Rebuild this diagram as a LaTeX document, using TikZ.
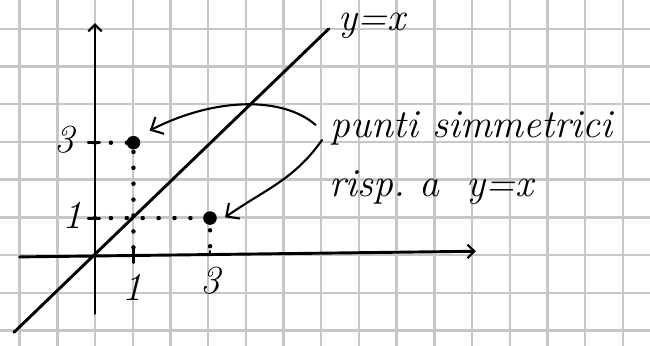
\documentclass[tikz,border=0pt]{standalone}
\usetikzlibrary{arrows.meta}
\begin{document}
\begin{tikzpicture}[
  gridline/.style={draw=black!22, line width=1.8pt},
  ink/.style={line width=2.2pt, line cap=round, line join=round},
  thin ink/.style={line width=1.6pt, line cap=round},
  dotline/.style={line width=3.4pt, line cap=round, dash pattern=on 0pt off 12pt},
  hand/.style={font=\fontsize{30}{32}\selectfont\itshape, inner sep=0pt},
  barb/.style={-{Straight Barb[length=2.6mm,width=5mm,line width=1.6pt]}},
  axbarb/.style={-{Straight Barb[length=1.8mm,width=3.6mm,line width=1.6pt]}}
]
\useasboundingbox (-2.52,-2.387) rectangle (14.72,6.764);
\clip (-2.52,-2.387) rectangle (14.72,6.764);
% grid
\foreach \i in {-2,...,14} \draw[gridline] (\i,-2.5) -- (\i,6.9);
\foreach \j in {-2,...,6} \draw[gridline] (-2.6,\j) -- (14.8,\j);
% axes
\coordinate (xs) at (-2.0,-0.05);
\coordinate (xe) at (10.1,0.1);
\coordinate (ys) at (0,-1.55);
\coordinate (ye) at (0,6.15);
\draw[ink, axbarb] (xs) -- (xe);
\draw[ink, axbarb] (ys) -- (ye);
% line y=x
\coordinate (ls) at (-2.15,-2.05);
\coordinate (le) at (6.2,6.0);
\draw[ink] (ls) -- (le);
\node[hand, anchor=base west] (lab) at (6.45,5.95) {y=x};
% points
\coordinate (P) at (1.02,2.98);
\coordinate (Q) at (3.05,0.98);
\fill (P) circle (0.18);
\fill (Q) circle (0.18);
\coordinate (Py) at (0,2.98);
\coordinate (Px) at (1.02,0);
\coordinate (Qy) at (0,0.98);
\coordinate (Qx) at (3.05,0);
\draw[dotline] (Py) -- (P) -- (Px);
\draw[dotline] (Qy) -- (Q) -- (Qx);
% ticks
\draw[thin ink, line width=2.2pt] (-0.18,2.98) -- (0.12,2.98);
\draw[thin ink, line width=2.2pt] (-0.18,0.98) -- (0.12,0.98);
\draw[thin ink, line width=2.2pt] (1.02,0.18) -- (1.02,-0.2);
\draw[thin ink, line width=2.2pt] (3.05,0.02) -- (3.05,0.1);
% tick labels
\node[hand] (y3) at (-0.82,3.05) {3};
\node[hand] (y1) at (-0.6,1.05) {1};
\node[hand] (x1) at (1.0,-0.85) {1};
\node[hand] (x3) at (3.05,-0.68) {3};
% text
\node[hand, anchor=base west] (t1) at (6.25,3.13) {punti simmetrici};
\node[hand, anchor=base west] (t2) at (6.2,1.54) {risp.\ a\ \ y=x};
% arrows
\coordinate (a1s) at (5.85,3.45);
\coordinate (a1e) at (1.45,3.3);
\coordinate (a2s) at (6.02,3.05);
\coordinate (a2e) at (3.45,1.0);
\draw[thin ink, barb] (a1s) .. controls (5.0,4.2) and (3.2,4.2) .. (a1e);
\draw[thin ink, barb] (a2s) to[out=-125, in=35] (a2e);
\end{tikzpicture}
\end{document}
